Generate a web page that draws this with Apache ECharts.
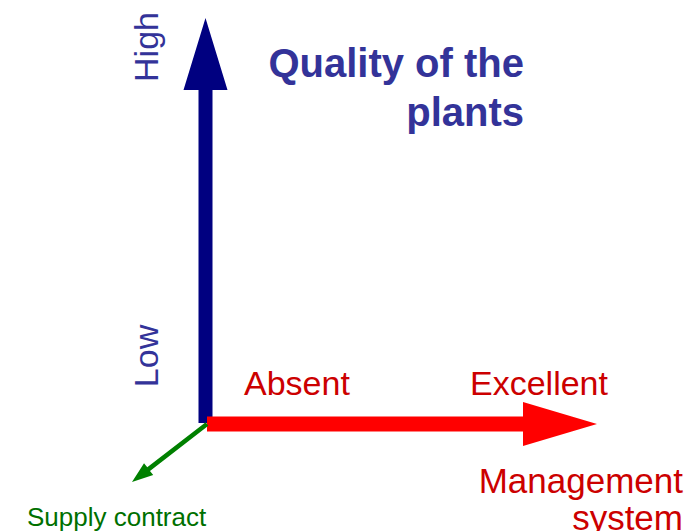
<!DOCTYPE html>
<html>
<head>
<meta charset="utf-8">
<script src="https://cdn.jsdelivr.net/npm/echarts@6/dist/echarts.min.js"></script>
<style>
  html, body { margin: 0; padding: 0; background: #fff; }
  #chart { width: 689px; height: 531px; }
</style>
</head>
<body>
<div id="chart"></div>
<script>
// diagram space = page pixels (x right, y down)
const arrowNames = ["Quality of the plants", "Management system", "Supply contract"]
const arrowFrom = [[205.5, 423], [207, 424], [207, 424]]
const arrowTo = [[205.5, 18], [597, 424], [132, 482]]

const qualityTicks = ["High", "Low"]
const qualityTickAt = [[146, 47], [146, 356]]
const managementTicks = ["Absent", "Excellent"]
const managementTickAt = [[244, 383], [470, 383]]

const titleLines = ["Quality of the", "plants"]
const titleAt = [[524, 63], [524, 112]]
const mgmtLines = ["Management", "system"]
const mgmtAt = [[683, 480], [683, 517]]
const supplyAt = [27, 517]

const arrowStyle = [
    { color: "#000080", shaft: 14, headW: 44, headL: 72 },
    { color: "#ff0000", shaft: 15, headW: 44, headL: 74 },
    { color: "#008000", shaft: 4.5, headW: 15, headL: 21 },
]

const FONT = "Liberation Sans, Arial, sans-serif"

const arrowPoints = (api, idx) => {
    const s = api.coord(arrowFrom[idx])
    const e = api.coord(arrowTo[idx])
    const st = arrowStyle[idx]
    const dx = e[0] - s[0]
    const dy = e[1] - s[1]
    const len = Math.sqrt(dx * dx + dy * dy)
    const ux = dx / len
    const uy = dy / len
    const nx = -uy
    const ny = ux
    const b = [e[0] - ux * st.headL, e[1] - uy * st.headL]
    const w = st.shaft / 2
    const h = st.headW / 2
    return [
        [s[0] + nx * w, s[1] + ny * w],
        [b[0] + nx * w, b[1] + ny * w],
        [b[0] + nx * h, b[1] + ny * h],
        e,
        [b[0] - nx * h, b[1] - ny * h],
        [b[0] - nx * w, b[1] - ny * w],
        [s[0] - nx * w, s[1] - ny * w],
    ]
}

const textEl = (api, pos, text, opts) => {
    const p = api.coord(pos)
    return {
        type: "text",
        x: p[0],
        y: p[1],
        rotation: opts.rotation || 0,
        style: {
            text,
            fill: opts.color,
            font: opts.font,
            align: opts.align || "left",
            verticalAlign: "middle",
        },
    }
}

const chart = echarts.init(document.getElementById("chart"), null, {
    renderer: "svg",
})

chart.setOption({
    animation: false,
    grid: { left: 0, right: 0, top: 0, bottom: 0 },
    xAxis: { type: "value", min: 0, max: 689, show: false },
    yAxis: { type: "value", min: 0, max: 531, inverse: true, show: false },
    series: [
        {
            type: "custom",
            name: "arrows",
            data: arrowNames.map((n, i) => ({ name: n, value: [i] })),
            renderItem: (params, api) => ({
                type: "polygon",
                shape: { points: arrowPoints(api, params.dataIndex) },
                style: { fill: arrowStyle[params.dataIndex].color },
            }),
            silent: true,
        },
        {
            type: "custom",
            name: "labels",
            data: [[0]],
            renderItem: (params, api) => ({
                type: "group",
                children: [
                    ...qualityTicks.map((t, i) =>
                        textEl(api, qualityTickAt[i], t, {
                            color: "#333399",
                            font: "34px " + FONT,
                            align: "center",
                            rotation: Math.PI / 2,
                        })
                    ),
                    ...managementTicks.map((t, i) =>
                        textEl(api, managementTickAt[i], t, {
                            color: "#cc0000",
                            font: "34px " + FONT,
                        })
                    ),
                    ...titleLines.map((t, i) =>
                        textEl(api, titleAt[i], t, {
                            color: "#333399",
                            font: "bold 40px " + FONT,
                            align: "right",
                        })
                    ),
                    ...mgmtLines.map((t, i) =>
                        textEl(api, mgmtAt[i], t, {
                            color: "#cc0000",
                            font: "35px " + FONT,
                            align: "right",
                        })
                    ),
                    textEl(api, supplyAt, arrowNames[2], {
                        color: "#007000",
                        font: "26px " + FONT,
                    }),
                ],
            }),
            silent: true,
        },
    ],
})
</script>
</body>
</html>
